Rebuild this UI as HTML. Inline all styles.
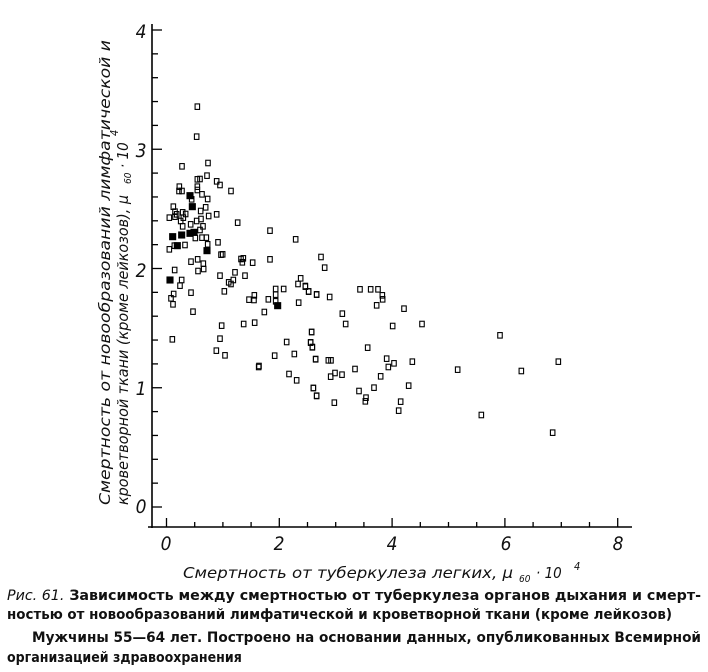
<!DOCTYPE html>
<html><head><meta charset="utf-8"><style>
body{margin:0;background:#fff;width:708px;height:672px;overflow:hidden}
svg{display:block}
</style></head><body>
<svg width="708" height="672" viewBox="0 0 708 672" xmlns="http://www.w3.org/2000/svg">
<g stroke="#000" stroke-width="1.6" fill="none">
<line x1="152" y1="24" x2="152" y2="528"/>
<line x1="148" y1="527" x2="632" y2="527"/>
</g>
<g stroke="#000" stroke-width="1.3" id="ticks"></g>
<g font-family="'DejaVu Sans Condensed','Liberation Sans',sans-serif" font-style="italic" font-size="19" fill="#111" text-anchor="middle">
<text x="141" y="38">4</text><text x="141" y="157">3</text><text x="141" y="277">2</text><text x="141" y="395">1</text><text x="141" y="513">0</text>
<text x="166" y="550">0</text><text x="279" y="550">2</text><text x="392" y="550">4</text><text x="506" y="550">6</text><text x="618" y="550">8</text>
</g>
<g font-family="'DejaVu Sans Condensed','Liberation Sans',sans-serif" font-style="italic" font-size="15" fill="#111">
<text x="183" y="578" textLength="330" lengthAdjust="spacingAndGlyphs">Смертность от туберкулеза  легких, μ</text>
<text x="519" y="582" font-size="10">60</text>
<text x="536" y="578">· 10</text><text x="574" y="570" font-size="11">4</text>
<text transform="translate(110,505) rotate(-90)" textLength="465" lengthAdjust="spacingAndGlyphs">Смертность от новообразований лимфатической и</text>
<text transform="translate(128,505) rotate(-90)" textLength="310" lengthAdjust="spacingAndGlyphs">кроветворной ткани (кроме  лейкозов), μ</text>
<text transform="translate(131,184) rotate(-90)" font-size="10">60</text>
<text transform="translate(128,168) rotate(-90)">· 10</text>
<text transform="translate(118,136) rotate(-90)" font-size="11">4</text>
</g>
<g id="pts" stroke="#000" stroke-width="1.1" fill="none"></g>
<g font-family="'DejaVu Sans Condensed','Liberation Sans',sans-serif" font-weight="bold" font-size="14" fill="#111">
<text x="7" y="600" textLength="694" lengthAdjust="spacingAndGlyphs"><tspan font-style="italic" font-weight="normal">Рис. 61.</tspan> Зависимость между смертностью от туберкулеза органов дыхания и смерт-</text>
<text x="7" y="619" textLength="665" lengthAdjust="spacingAndGlyphs">ностью от новообразований лимфатической и кроветворной ткани (кроме лейкозов)</text>
<text x="32" y="642" textLength="669" lengthAdjust="spacingAndGlyphs">Мужчины 55—64 лет. Построено на основании данных, опубликованных Всемирной</text>
<text x="7" y="662">организацией здравоохранения</text>
</g>
</svg>
<script>
var ns="http://www.w3.org/2000/svg";
var t=document.getElementById("ticks");
function L(x1,y1,x2,y2){var l=document.createElementNS(ns,"line");l.setAttribute("x1",x1);l.setAttribute("y1",y1);l.setAttribute("x2",x2);l.setAttribute("y2",y2);t.appendChild(l);}
for(var i=0;i<=20;i++){var y=507-i*23.85;L(152,y,i%5==0?162:158,y);}
for(var j=0;j<=16;j++){var x=166.5+j*28.2;L(x,527,x,j%4==0?518:522);}
var z1=[[172,50],[170,140],[204,219],[126,229],[201,257],[172,268],[180,267],[230,274],[240,285],[273,303],[118,290],[126,303],[117,303],[172,290],[172,300],[150,317,1],[155,328],[186,313],[203,327],[100,350],[157,350,1],[182,363],[197,352],[105,365],[110,373],[128,367],[137,372],[88,383],[105,380],[130,383],[122,393],[206,378],[230,373],[183,387],[170,393],[128,409],[152,403],[189,409],[180,420],[293,398],[390,422],[467,448],[98,440,1],[125,435,1],[150,430,1],[162,427,1],[186,443],[199,443],[166,444],[234,457],[112,467,1],[103,467],[135,465],[88,478],[203,463],[201,482,1],[243,494],[248,493],[153,515],[173,508],[190,521],[191,537],[174,543],[104,540],[303,507],[310,505],[307,517],[338,518],[390,508],[240,557],[285,547],[315,557],[90,570,1],[125,570],[120,587],[266,577],[273,582],[280,570],[482,565],[474,582],[496,590],[506,605],[530,613],[407,597],[431,597],[407,614],[153,608],[101,612],[93,625],[99,643],[253,604],[327,629],[343,616],[342,630],[385,628],[407,634],[413,647,1],[476,638],[159,665],[373,666],[245,707],[311,702],[344,698],[515,726],[97,748],[240,746],[440,756],[512,757],[517,772],[229,782],[255,796],[404,797],[463,792],[527,807],[357,828]];
var z3=[[63,111],[74,143],[16,198],[26,214],[50,224],[89,231],[180,208],[212,208],[234,208],[247,226],[248,238],[230,256],[312,266],[127,281],[137,312],[278,318],[366,312],[600,346],[35,336],[32,368],[37,381],[203,383],[47,418],[85,421],[93,421],[260,416],[265,441],[282,430],[337,425],[165,447],[473,449],[664,453],[775,425],[92,470],[105,459],[126,464],[242,469],[40,504],[50,528],[177,513],[222,503],[326,497],[103,548],[198,533],[196,544],[302,545],[296,572],[544,585],[758,638]];
var z4=[[326,36],[417,57],[440,76],[490,99],[500,122]];
var g=document.getElementById("pts");
function P(x,y,f){var r=document.createElementNS(ns,"rect");var w=f?6:4.5,h=f?6:5.5;r.setAttribute("x",x-w/2);r.setAttribute("y",y-h/2);r.setAttribute("width",w);r.setAttribute("height",h);if(f)r.setAttribute("fill","#000");g.appendChild(r);}
z1.forEach(function(p){P(140+p[0]/3,90+p[1]/3,p[2]);});
z3.forEach(function(p){P(300+p[0]/3,220+p[1]/3);});
z4.forEach(function(p){P(150+p[0]/3,355+p[1]/3);});
</script>
</body></html>
